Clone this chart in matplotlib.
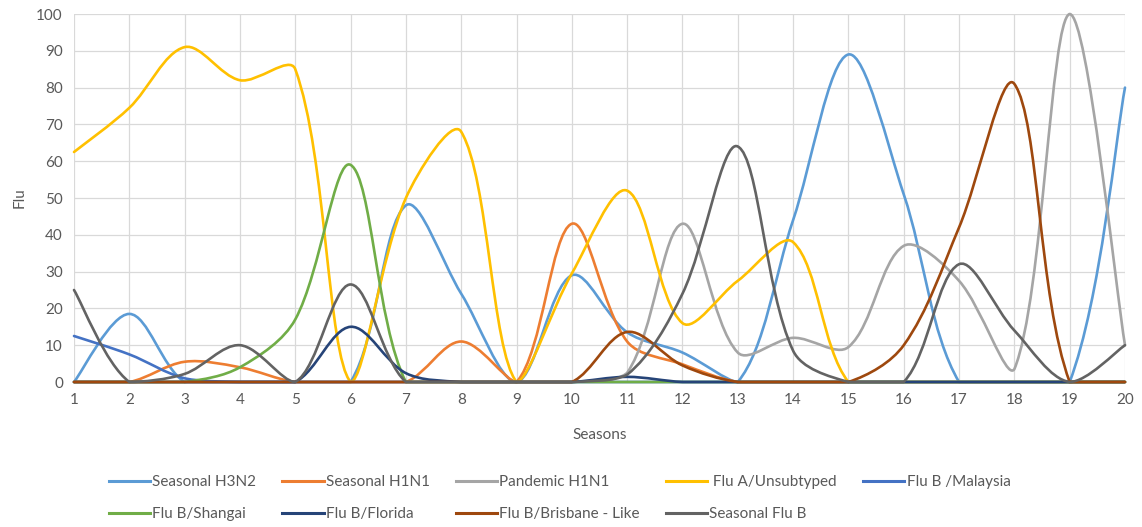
import numpy as np
import matplotlib
matplotlib.use("Agg")
import matplotlib.pyplot as plt
from matplotlib.path import Path
from matplotlib.patches import PathPatch
from matplotlib.lines import Line2D

plt.rcParams['font.family'] = ['Lato', 'DejaVu Sans']

seasons = list(range(1, 21))

seasonal_h3n2 = [0, 18.5, 0, 0, 0, 0, 48, 24, 0, 29, 13.5, 8, 0, 44, 89, 51, 0, 0, 0, 80]
seasonal_h1n1 = [0, 0, 5.5, 4, 0, 0, 0, 11, 0, 43, 11, 4.8, 0, 0, 0, 0, 0, 0, 0, 0]
pandemic_h1n1 = [0, 0, 0, 0, 0, 0, 0, 0, 0, 0, 2.5, 43, 8, 12, 9.5, 37, 27.5, 3.5, 100, 10]
flu_a_unsub = [62.5, 74.5, 91, 82, 85, 0, 50, 68, 0, 29.5, 52, 16, 27.5, 38, 0, 0, 0, 0, 0, 0]
flu_b_malaysia = [12.5, 7.5, 1, 0, 0, 0, 0, 0, 0, 0, 0, 0, 0, 0, 0, 0, 0, 0, 0, 0]
flu_b_shangai = [0, 0, 0, 4, 17, 59, 0, 0, 0, 0, 0, 0, 0, 0, 0, 0, 0, 0, 0, 0]
flu_b_florida = [0, 0, 0, 0, 0, 15, 2.4, 0, 0, 0, 1.4, 0, 0, 0, 0, 0, 0, 0, 0, 0]
flu_b_brisbane = [0, 0, 0, 0, 0, 0, 0, 0, 0, 0, 13.6, 4.5, 0, 0, 0, 10, 42, 81, 0, 0]
seasonal_flu_b = [25, 0, 2.2, 10, 0, 26.5, 0, 0, 0, 0, 2, 24, 64, 8.5, 0, 0, 32, 14, 0, 10]

names = ['Seasonal H3N2', 'Seasonal H1N1', 'Pandemic H1N1', ' Flu A/Unsubtyped', 'Flu B /Malaysia',
         'Flu B/Shangai', 'Flu B/Florida', 'Flu B/Brisbane - Like', 'Seasonal Flu B']
series = [seasonal_h3n2, seasonal_h1n1, pandemic_h1n1, flu_a_unsub, flu_b_malaysia,
          flu_b_shangai, flu_b_florida, flu_b_brisbane, seasonal_flu_b]
colors = ['#5B9BD5', '#ED7D31', '#A5A5A5', '#FFC000', '#4472C4',
          '#70AD47', '#264478', '#9E480E', '#636363']

# pixel size of one unit on each axis, used to weight the smoothing
XS, YS = 55.3, 3.68


def smooth_path(x, y):
    # excel-like smoothed line: cubic bezier, control arms weighted by segment length
    n = len(x)
    px = np.array(x, float) * XS
    py = np.array(y, float) * YS
    seg = np.hypot(np.diff(px), np.diff(py))
    out_arm, in_arm = [None] * n, [None] * n
    for i in range(n):
        a = max(i - 1, 0)
        b = min(i + 1, n - 1)
        tx, ty = px[b] - px[a], py[b] - py[a]
        if i == 0 or i == n - 1:
            k_in = k_out = 1 / 6
        else:
            tot = seg[i - 1] + seg[i]
            k_in = seg[i - 1] / tot / 3
            k_out = seg[i] / tot / 3
        in_arm[i] = (-tx * k_in, -ty * k_in)
        out_arm[i] = (tx * k_out, ty * k_out)
    verts = [(x[0], y[0])]
    codes = [Path.MOVETO]
    for i in range(n - 1):
        c1 = (x[i] + out_arm[i][0] / XS, min(max(y[i] + out_arm[i][1] / YS, 0), 100))
        c2 = (x[i + 1] + in_arm[i + 1][0] / XS, min(max(y[i + 1] + in_arm[i + 1][1] / YS, 0), 100))
        verts += [c1, c2, (x[i + 1], y[i + 1])]
        codes += [Path.CURVE4] * 3
    return Path(verts, codes)


fig = plt.figure(figsize=(11.42, 5.27), dpi=100)
ax = fig.add_axes([74 / 1142, 1 - 382 / 527, (1125 - 74) / 1142, (382 - 14) / 527])

for vals, c in zip(series, colors):
    p = PathPatch(smooth_path(seasons, vals), facecolor='none', edgecolor=c, lw=1.9,
                  capstyle='round', joinstyle='round', clip_on=False, zorder=3)
    ax.add_patch(p)

ax.set_xlim(1, 20)
ax.set_ylim(0, 100)
ax.set_xticks(seasons)
ax.set_yticks(range(0, 101, 10))
ax.grid(True, color='#D9D9D9', lw=0.9)
ax.set_axisbelow(True)
for s in ax.spines.values():
    s.set_visible(False)
ax.tick_params(length=0, labelsize=11, colors='#595959', pad=8)
ax.set_xlabel('Seasons', fontsize=11, color='#595959', labelpad=15)
ax.set_ylabel('Flu', fontsize=11, color='#595959', labelpad=7)

handles = [Line2D([], [], color=c, lw=2.2) for c in colors]
order = [0, 5, 1, 6, 2, 7, 3, 8, 4]
fig.legend([handles[i] for i in order], [names[i] for i in order], ncol=5,
           loc='center', bbox_to_anchor=(0.49, 0.055), frameon=False, fontsize=11,
           handlelength=2.7, handletextpad=0.15, columnspacing=1.7, labelspacing=1.2,
           labelcolor='#595959')

fig.savefig('out.png', dpi=100)
